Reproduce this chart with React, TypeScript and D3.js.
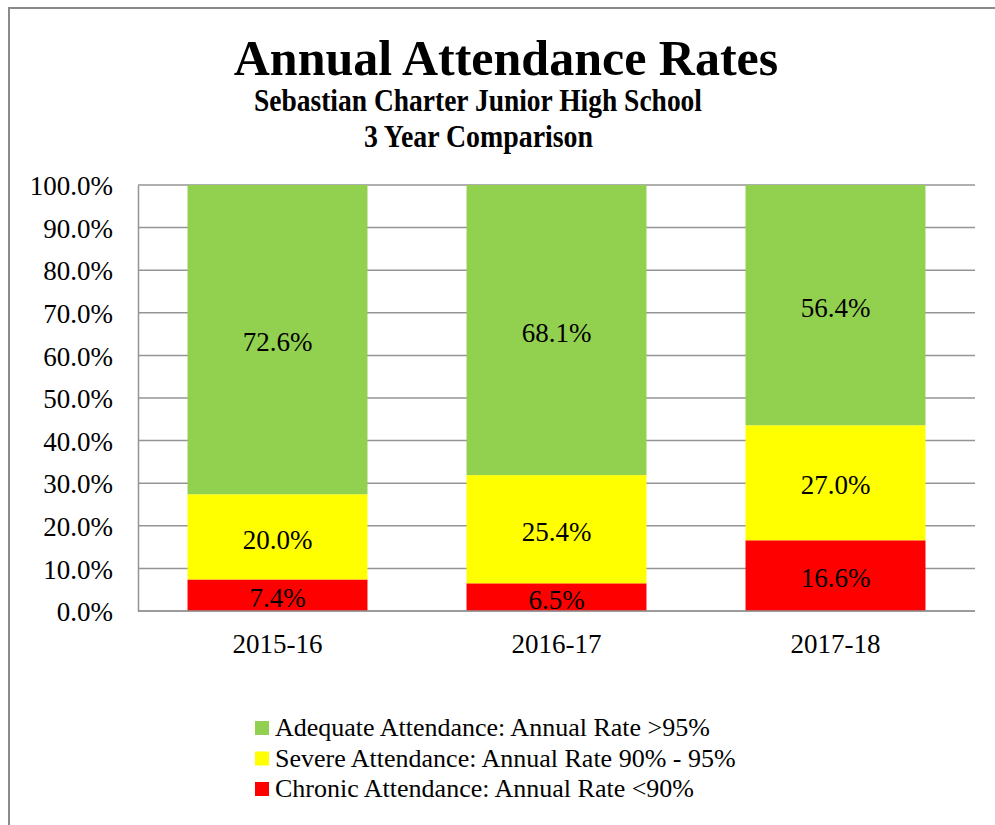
import { useEffect, useRef } from "react";
import * as d3 from "d3";

const years = ["2015-16", "2016-17", "2017-18"];
const chronic = [0.074, 0.065, 0.166];
const severe = [0.2, 0.254, 0.27];
const adequate = [0.726, 0.681, 0.564];
const yTicks = [0, 0.1, 0.2, 0.3, 0.4, 0.5, 0.6, 0.7, 0.8, 0.9, 1.0];
const seriesKeys = ["chronic", "severe", "adequate"];
const seriesColors = ["#FF0000", "#FFFF00", "#92D050"];
const legendLabels = [
  "Adequate Attendance: Annual Rate >95%",
  "Severe Attendance: Annual Rate 90% - 95%",
  "Chronic Attendance: Annual Rate <90%",
];
const legendColors = ["#92D050", "#FFFF00", "#FF0000"];

const FONT = "'Liberation Serif', 'Times New Roman', serif";

export default function App() {
  const ref = useRef(null);

  useEffect(() => {
    const root = d3.select(ref.current);
    root.selectAll("*").remove();

    const width = 995;
    const height = 825;
    const marginLeft = 138;
    const marginRight = 20;
    const marginTop = 185;
    const plotBottom = 611;

    const svg = root
      .append("svg")
      .attr("width", width)
      .attr("height", height)
      .attr("viewBox", [0, 0, width, height])
      .style("position", "absolute")
      .style("left", 0)
      .style("top", 0)
      .style("font-family", FONT);

    svg.append("rect").attr("width", width).attr("height", height).attr("fill", "#fff");

    // outer chart border
    svg
      .append("rect")
      .attr("x", 9)
      .attr("y", 8)
      .attr("width", 1100)
      .attr("height", 1000)
      .attr("fill", "none")
      .attr("stroke", "#8a8a8a")
      .attr("stroke-width", 2);

    // titles
    svg
      .append("text")
      .attr("x", 506)
      .attr("y", 75)
      .attr("text-anchor", "middle")
      .attr("font-weight", "bold")
      .attr("font-size", 50)
      .text("Annual Attendance Rates");
    svg
      .append("text")
      .attr("x", 478)
      .attr("y", 111)
      .attr("text-anchor", "middle")
      .attr("font-weight", "bold")
      .attr("font-size", 31)
      .attr("textLength", 448)
      .attr("lengthAdjust", "spacingAndGlyphs")
      .text("Sebastian Charter Junior High School");
    svg
      .append("text")
      .attr("x", 478.5)
      .attr("y", 147)
      .attr("text-anchor", "middle")
      .attr("font-weight", "bold")
      .attr("font-size", 31)
      .attr("textLength", 229)
      .attr("lengthAdjust", "spacingAndGlyphs")
      .text("3 Year Comparison");

    const x = d3
      .scaleBand()
      .domain(years)
      .range([marginLeft, width - marginRight])
      .paddingInner(0.355)
      .paddingOuter(0.1775);

    const y = d3.scaleLinear().domain([0, 1]).range([plotBottom, marginTop]);

    // gridlines
    svg
      .append("g")
      .attr("stroke", "#959595")
      .attr("stroke-width", 1.5)
      .selectAll()
      .data(yTicks)
      .join("line")
      .attr("x1", marginLeft)
      .attr("x2", width - marginRight)
      .attr("y1", (d) => y(d))
      .attr("y2", (d) => y(d));

    // y axis
    const yAxis = svg
      .append("g")
      .attr("transform", `translate(${marginLeft},0)`)
      .call(
        d3
          .axisLeft(y)
          .tickValues(yTicks)
          .tickSize(0)
          .tickPadding(25)
          .tickFormat(d3.format(".1%"))
      );
    yAxis.select(".domain").attr("stroke", "#959595").attr("stroke-width", 1.5);
    yAxis
      .selectAll(".tick text")
      .attr("font-family", FONT)
      .attr("font-size", 27)
      .attr("fill", "#000")
      .attr("dy", "0.36em");

    // stacked bars
    const table = years.map((yr, i) => ({
      year: yr,
      chronic: chronic[i],
      severe: severe[i],
      adequate: adequate[i],
    }));
    const stacked = d3.stack().keys(seriesKeys)(table);

    svg
      .append("g")
      .selectAll()
      .data(stacked)
      .join("g")
      .attr("fill", (d, i) => seriesColors[i])
      .selectAll("rect")
      .data((d) => d)
      .join("rect")
      .attr("x", (d) => x(d.data.year))
      .attr("y", (d) => y(d[1]))
      .attr("width", x.bandwidth())
      .attr("height", (d) => y(d[0]) - y(d[1]));

    // data labels
    svg
      .append("g")
      .selectAll()
      .data(stacked)
      .join("g")
      .selectAll("text")
      .data((d) => d)
      .join("text")
      .attr("x", (d) => x(d.data.year) + x.bandwidth() / 2)
      .attr("y", (d) => y((d[0] + d[1]) / 2) + 2)
      .attr("dy", "0.36em")
      .attr("text-anchor", "middle")
      .attr("font-size", 27)
      .text((d) => d3.format(".1%")(d[1] - d[0]));

    // x axis baseline
    svg
      .append("line")
      .attr("x1", marginLeft)
      .attr("x2", width - marginRight)
      .attr("y1", plotBottom)
      .attr("y2", plotBottom)
      .attr("stroke", "#959595")
      .attr("stroke-width", 1.5);

    svg
      .append("g")
      .selectAll()
      .data(years)
      .join("text")
      .attr("x", (d) => x(d) + x.bandwidth() / 2)
      .attr("y", 653)
      .attr("text-anchor", "middle")
      .attr("font-size", 27)
      .text((d) => d);

    // legend
    const legend = svg
      .append("g")
      .selectAll()
      .data(legendLabels)
      .join("g")
      .attr("transform", (d, i) => `translate(255,${721 + i * 30.5})`);
    legend
      .append("rect")
      .attr("width", 14)
      .attr("height", 14)
      .attr("fill", (d, i) => legendColors[i]);
    legend
      .append("text")
      .attr("x", 20)
      .attr("y", 15)
      .attr("font-size", 26)
      .text((d) => d);
  }, []);

  return <div ref={ref} />;
}
